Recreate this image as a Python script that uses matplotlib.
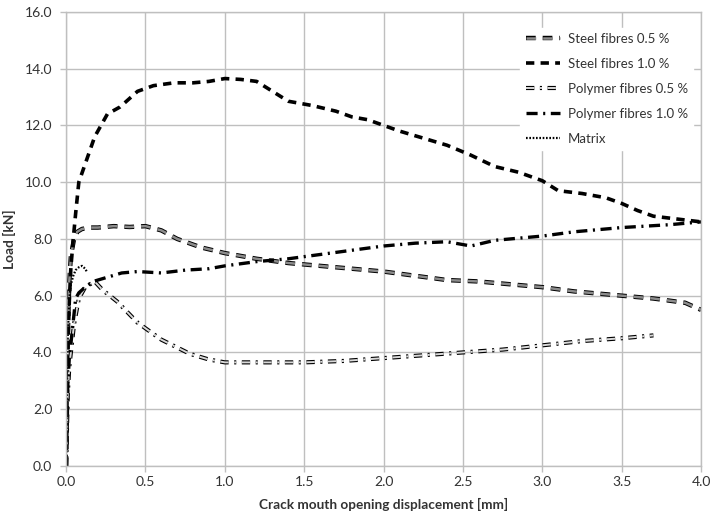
import matplotlib
matplotlib.use("Agg")
import matplotlib.pyplot as plt

# Load vs CMOD curves (mm, kN)
steel05_x = [0, 0.005, 0.01, 0.02, 0.03, 0.05, 0.07, 0.1, 0.15, 0.2, 0.3, 0.4, 0.5, 0.6,
             0.7, 0.85, 1.0, 1.2, 1.4, 1.6, 1.8, 2.0, 2.2, 2.4, 2.6, 2.8, 3.0, 3.2, 3.5,
             3.7, 3.9, 4.0]
steel05_y = [0, 2.0, 4.5, 6.5, 7.4, 8.0, 8.25, 8.35, 8.4, 8.4, 8.45, 8.42, 8.45, 8.3,
             8.0, 7.7, 7.5, 7.3, 7.15, 7.05, 6.95, 6.85, 6.7, 6.55, 6.5, 6.4, 6.3, 6.15,
             6.0, 5.9, 5.75, 5.5]

steel10_x = [0, 0.005, 0.01, 0.02, 0.03, 0.045, 0.06, 0.08, 0.13, 0.18, 0.26, 0.34, 0.45,
             0.55, 0.68, 0.8, 0.9, 1.0, 1.1, 1.2, 1.3, 1.4, 1.55, 1.7, 1.8, 1.9, 2.0, 2.1,
             2.25, 2.4, 2.55, 2.7, 2.85, 3.0, 3.1, 3.25, 3.4, 3.5, 3.6, 3.7, 3.85, 4.0]
steel10_y = [0, 2.0, 4.0, 5.8, 7.0, 8.0, 8.9, 10.0, 10.8, 11.6, 12.4, 12.65, 13.2, 13.4,
             13.5, 13.5, 13.55, 13.65, 13.62, 13.55, 13.2, 12.85, 12.7, 12.5, 12.3, 12.2,
             12.0, 11.8, 11.55, 11.3, 10.95, 10.55, 10.35, 10.05, 9.7, 9.6, 9.45, 9.25,
             9.0, 8.8, 8.7, 8.6]

poly05_x = [0, 0.005, 0.01, 0.02, 0.03, 0.05, 0.08, 0.12, 0.18, 0.23, 0.32, 0.45, 0.6,
            0.78, 0.9, 1.0, 1.25, 1.5, 1.75, 2.0, 2.25, 2.5, 2.75, 3.0, 3.25, 3.5, 3.7]
poly05_y = [0, 1.2, 2.5, 3.5, 4.0, 5.0, 5.9, 6.3, 6.5, 6.2, 5.8, 5.05, 4.45, 3.95, 3.75,
            3.65, 3.65, 3.65, 3.7, 3.8, 3.9, 4.0, 4.1, 4.25, 4.4, 4.5, 4.6]

poly10_x = [0, 0.005, 0.01, 0.02, 0.03, 0.045, 0.06, 0.08, 0.11, 0.17, 0.26, 0.35, 0.45,
            0.6, 0.75, 0.9, 1.0, 1.2, 1.4, 1.6, 1.8, 2.0, 2.2, 2.4, 2.45, 2.55, 2.7, 3.0,
            3.2, 3.5, 3.8, 4.0]
poly10_y = [0, 1.5, 2.8, 3.8, 4.3, 5.1, 5.9, 6.1, 6.25, 6.5, 6.65, 6.8, 6.85, 6.8, 6.9,
            6.95, 7.05, 7.2, 7.3, 7.45, 7.6, 7.75, 7.85, 7.9, 7.85, 7.75, 7.95, 8.1, 8.25,
            8.4, 8.5, 8.6]

matrix_x = [0, 0.005, 0.01, 0.02, 0.03, 0.045, 0.06, 0.08, 0.1, 0.12, 0.13]
matrix_y = [0, 2.5, 4.5, 5.9, 6.4, 6.7, 6.9, 7.0, 7.05, 6.95, 6.85]

x_ticks = [0.0, 0.5, 1.0, 1.5, 2.0, 2.5, 3.0, 3.5, 4.0]
y_ticks = [0, 2, 4, 6, 8, 10, 12, 14, 16]

plt.rcParams["font.family"] = ["Lato", "DejaVu Sans"]
plt.rcParams["lines.scale_dashes"] = False

fig = plt.figure(figsize=(7.11, 5.16), dpi=100)
ax = fig.add_axes([0.093, 0.097, 0.893, 0.880])

grid_c = "#bfbfbf"

# hollow grey dashes: thick black stroke with lighter stroke on top
s05a, = ax.plot(steel05_x, steel05_y, color="black", lw=3.2, ls=(0, (7, 5)))
s05b, = ax.plot(steel05_x, steel05_y, color="#8c8c8c", lw=1.8, ls=(0, (7, 5)))
s10, = ax.plot(steel10_x, steel10_y, color="black", lw=2.6, ls=(0, (6, 4.5)))
p05a, = ax.plot(poly05_x, poly05_y, color="black", lw=3.0, ls=(0, (6, 4, 1.5, 4)))
p05b, = ax.plot(poly05_x, poly05_y, color="#d9d9d9", lw=1.4, ls=(0, (6, 4, 1.5, 4)))
p10, = ax.plot(poly10_x, poly10_y, color="black", lw=2.4, ls=(0, (8, 4, 1.5, 4)))
mx, = ax.plot(matrix_x, matrix_y, color="black", lw=1.6, ls=(0, (1.2, 1.2)))

ax.set_xlim(0, 4)
ax.set_ylim(0, 16)
ax.set_xticks(x_ticks)
ax.set_yticks(y_ticks)
ax.set_xticklabels([f"{v:.1f}" for v in x_ticks])
ax.set_yticklabels([f"{v:.1f}" for v in y_ticks])
ax.grid(True, color=grid_c, lw=1.0)
ax.set_axisbelow(True)
for sp in ax.spines.values():
    sp.set_color(grid_c)
    sp.set_linewidth(1.0)
ax.tick_params(colors=grid_c, labelcolor="#333333", labelsize=10, length=4, width=1.0)
ax.tick_params(axis="y", pad=6)

ax.set_xlabel("Crack mouth opening displacement [mm]", fontsize=9.8, fontweight="bold",
              color="#333333", labelpad=7)
ax.set_ylabel("Load [kN]", fontsize=9.8, fontweight="bold", color="#333333", labelpad=6)

leg = ax.legend([(s05a, s05b), s10, (p05a, p05b), p10, mx],
                ["Steel fibres 0.5 %", "Steel fibres 1.0 %", "Polymer fibres 0.5 %",
                 "Polymer fibres 1.0 %", "Matrix"],
                loc="upper right", bbox_to_anchor=(0.994, 0.974), fontsize=9.5,
                frameon=True, fancybox=False, framealpha=1, edgecolor="white",
                labelspacing=0.98, handlelength=2.6, handletextpad=0.6,
                borderaxespad=0.3)
for t in leg.get_texts():
    t.set_color("#333333")

fig.savefig("out.png", dpi=100)
